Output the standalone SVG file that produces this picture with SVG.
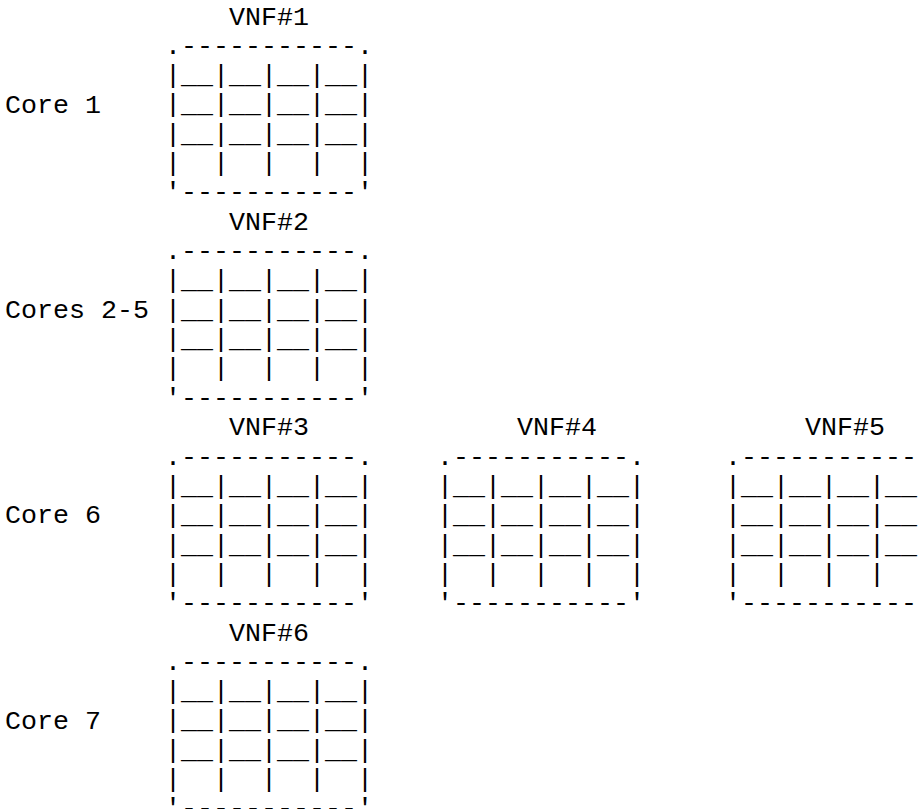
<svg xmlns="http://www.w3.org/2000/svg" width="921" height="809" viewBox="0 0 921 809" xml:space="preserve">
<style>
.t{font-family:"Liberation Mono","Courier New",monospace;font-size:26.67px;fill:#000;white-space:pre}
</style>
<rect width="921" height="809" fill="#fff"/>
<defs>
<g id="box">
<text class="t" x="0" y="0">.-----------.</text>
<text class="t" x="0" y="29.333">|__|__|__|__|</text>
<text class="t" x="0" y="58.667">|__|__|__|__|</text>
<text class="t" x="0" y="88">|__|__|__|__|</text>
<text class="t" x="0" y="117.333">|  |  |  |  |</text>
<text class="t" x="0" y="146.667">'-----------'</text>
</g>
</defs>
<g id="core1"><text class="t" x="5" y="112.5">Core 1</text></g>
<g id="cores2-5"><text class="t" x="5" y="317.83">Cores 2-5</text></g>
<g id="core6"><text class="t" x="5" y="523.17">Core 6</text></g>
<g id="core7"><text class="t" x="5" y="728.5">Core 7</text></g>
<g id="vnf1"><text class="t" x="229" y="24.5">VNF#1</text><use href="#box" x="165" y="53.83"/></g>
<g id="vnf2"><text class="t" x="229" y="229.83">VNF#2</text><use href="#box" x="165" y="259.17"/></g>
<g id="vnf3"><text class="t" x="229" y="435.17">VNF#3</text><use href="#box" x="165" y="464.5"/></g>
<g id="vnf4"><text class="t" x="517" y="435.17">VNF#4</text><use href="#box" x="437" y="464.5"/></g>
<g id="vnf5"><text class="t" x="805" y="435.17">VNF#5</text><use href="#box" x="725" y="464.5"/></g>
<g id="vnf6"><text class="t" x="229" y="640.5">VNF#6</text><use href="#box" x="165" y="669.83"/></g>
</svg>
